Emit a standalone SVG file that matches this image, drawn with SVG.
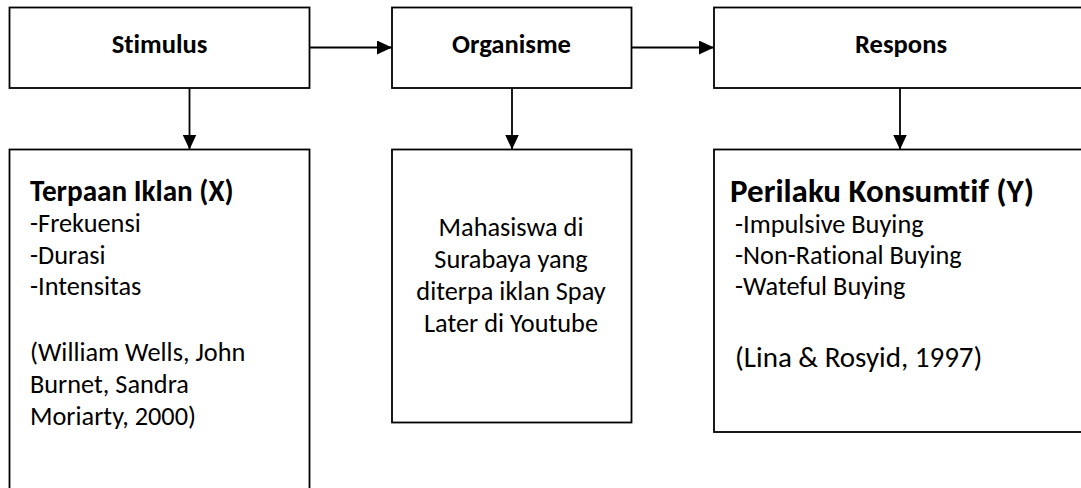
<svg xmlns="http://www.w3.org/2000/svg" width="1081" height="488" viewBox="0 0 1081 488">
  <style>
    .box { fill: #ffffff; stroke: #000000; stroke-width: 1.8; }
    .edge { fill: none; stroke: #000000; stroke-width: 1.8; }
    .t { font-family: "Carlito", "Lato", "Liberation Sans", sans-serif; fill: #000000; font-variant-ligatures: none; font-feature-settings: "liga" 0, "dlig" 0; }
    .lbl { font-size: 26.6px; font-weight: bold; text-anchor: middle; }
    .title { font-weight: bold; }
    .body { font-size: 26.3px; }
  </style>
  <defs>
    <marker id="arrow" markerUnits="userSpaceOnUse" markerWidth="15" markerHeight="14" refX="15" refY="7" orient="auto">
      <path d="M0,0 L15,7 L0,14 Z" fill="#000000"/>
    </marker>
  </defs>
  <rect x="0" y="0" width="1081" height="488" fill="#ffffff"/>

  <g id="connectors">
    <line class="edge" x1="309.5" y1="47.5" x2="392" y2="47.5" marker-end="url(#arrow)"/>
    <line class="edge" x1="631.5" y1="47.5" x2="714" y2="47.5" marker-end="url(#arrow)"/>
    <line class="edge" x1="189.5" y1="88" x2="189.5" y2="149.5" marker-end="url(#arrow)"/>
    <line class="edge" x1="512" y1="88" x2="512" y2="149.5" marker-end="url(#arrow)"/>
    <line class="edge" x1="900" y1="88" x2="900" y2="149.5" marker-end="url(#arrow)"/>
  </g>

  <g id="stimulus">
    <rect class="box" x="9.5" y="7.5" width="300" height="80.5"/>
    <text class="t lbl" x="159.5" y="53">Stimulus</text>
  </g>

  <g id="organisme">
    <rect class="box" x="392" y="7.5" width="239.5" height="80.5"/>
    <text class="t lbl" x="511.5" y="53">Organisme</text>
  </g>

  <g id="respons">
    <rect class="box" x="714" y="7.5" width="420" height="80.5"/>
    <text class="t lbl" x="901" y="53">Respons</text>
  </g>

  <g id="terpaan-iklan">
    <rect class="box" x="9.5" y="149.5" width="300" height="400"/>
    <text class="t title" x="30" y="201" font-size="29.2px">Terpaan Iklan (X)</text>
    <text class="t body" x="30" y="232">-Frekuensi</text>
    <text class="t body" x="30" y="263.5">-Durasi</text>
    <text class="t body" x="30" y="295">-Intensitas</text>
    <text class="t body" x="30" y="361">(William Wells, John</text>
    <text class="t body" x="30" y="393">Burnet, Sandra</text>
    <text class="t body" x="30" y="425">Moriarty, 2000)</text>
  </g>

  <g id="mahasiswa">
    <rect class="box" x="392" y="149.5" width="239.5" height="273"/>
    <text class="t body" x="511" y="236" text-anchor="middle">Mahasiswa di</text>
    <text class="t body" x="511" y="268" text-anchor="middle">Surabaya yang</text>
    <text class="t body" x="511" y="300" text-anchor="middle">diterpa iklan Spay</text>
    <text class="t body" x="511" y="332" text-anchor="middle">Later di Youtube</text>
  </g>

  <g id="perilaku-konsumtif">
    <rect class="box" x="714" y="149.5" width="420" height="282.5"/>
    <text class="t title" x="730" y="202" font-size="33px">Perilaku Konsumtif (Y)</text>
    <text class="t body" x="735" y="233">-Impulsive Buying</text>
    <text class="t body" x="735" y="264">-Non-Rational Buying</text>
    <text class="t body" x="735" y="295">-Wateful Buying</text>
    <text class="t" x="735" y="366.5" font-size="29px">(Lina &amp; Rosyid, 1997)</text>
  </g>
</svg>
